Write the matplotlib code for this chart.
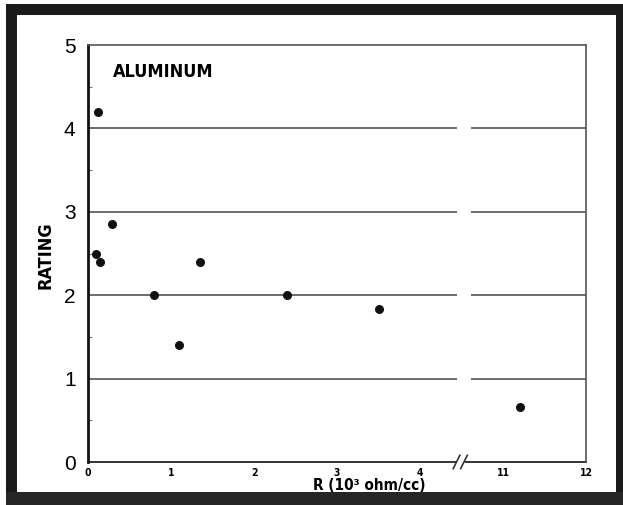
import matplotlib
matplotlib.use("Agg")
import matplotlib.pyplot as plt
import numpy as np
from matplotlib.patches import Rectangle
from matplotlib import font_manager

# --------------------------
# DATA
# --------------------------
resistance = [0.12, 0.10, 0.14, 0.29, 0.80, 1.10, 1.35, 2.40, 3.50, 11.2]   # 10^3 ohm/cc
rating = [4.20, 2.50, 2.40, 2.85, 2.00, 1.40, 2.40, 2.00, 1.83, 0.66]

x_tick_values = [0, 1, 2, 3, 4, 11, 12]
y_tick_values = [0, 1, 2, 3, 4, 5]
grid_levels = [1, 2, 3, 4]

# broken x axis: 4.5 .. 10.5 is cut out
BREAK_LO, BREAK_HI = 4.5, 10.5


def squeeze(v):
    return v if v <= BREAK_LO else v - (BREAK_HI - BREAK_LO)


# pick a condensed bold face if one is installed
names = {f.name for f in font_manager.fontManager.ttflist}
narrow_ok = "Liberation Sans Narrow" in names
NARROW = ["Liberation Sans Narrow", "DejaVu Sans"] if narrow_ok else ["DejaVu Sans"]
STRETCH = "normal" if narrow_ok else "condensed"

W, H = 623, 505

fig = plt.figure(figsize=(W / 100, H / 100), dpi=100)
ax = fig.add_axes([88 / W, 1 - 462 / H, (586 - 88) / W, (462 - 45) / H])

ax.scatter([squeeze(v) for v in resistance], rating, s=30, color="#111111", zorder=3)

x_max = squeeze(12)
ax.set_xlim(0, x_max)
ax.set_ylim(0, 5)

# horizontal rules with a gap at the axis break
gap_l, gap_r = 4.45, 4.62
ax.hlines(grid_levels, 0, gap_l, color="#444444", lw=1.1)
ax.hlines(grid_levels, gap_r, x_max, color="#444444", lw=1.1)

# spines
ax.spines["left"].set_linewidth(2.0)
ax.spines["left"].set_color("#111111")
for side in ["top", "right"]:
    ax.spines[side].set_linewidth(1.2)
    ax.spines[side].set_color("#555555")
ax.spines["bottom"].set_visible(False)

# bottom axis drawn by hand, with the // break mark
ax.plot([0, 4.43], [0, 0], color="#333333", lw=1.4, clip_on=False)
ax.plot([4.55, x_max], [0, 0], color="#333333", lw=1.4, clip_on=False)
ax.plot([4.40, 4.48], [-0.08, 0.08], color="#333333", lw=1.2, clip_on=False)
ax.plot([4.49, 4.57], [-0.08, 0.08], color="#333333", lw=1.2, clip_on=False)

# ticks
ax.set_xticks([squeeze(v) for v in x_tick_values])
ax.set_xticklabels([str(v) for v in x_tick_values])
ax.tick_params(axis="x", length=0, pad=4, labelsize=7.5)
for lab in ax.get_xticklabels():
    lab.set_fontweight("bold")
    lab.set_family(NARROW)
    lab.set_fontstretch(STRETCH)

ax.set_yticks(y_tick_values)
ax.set_yticks(np.arange(0.5, 5, 1), minor=True)
ax.tick_params(axis="y", which="major", length=0, pad=9, labelsize=15)
ax.tick_params(axis="y", which="minor", direction="in", length=3, width=0.8, color="#777777")
for lab in ax.get_yticklabels():
    lab.set_family(["Liberation Sans", "DejaVu Sans"])

# labels
fig.text(45 / W, 1 - 255 / H, "RATING", rotation=90, ha="center", va="center",
         fontsize=13, fontweight="bold", family=NARROW, fontstretch=STRETCH)
fig.text(113 / W, 1 - 72 / H, "ALUMINUM", ha="left", va="center",
         fontsize=13, fontweight="bold", family=NARROW, fontstretch=STRETCH)
fig.text(369 / W, 1 - 485 / H, "R (10³ ohm/cc)", ha="center", va="center",
         fontsize=11, fontweight="bold", family=NARROW, fontstretch=STRETCH)


# black scan border
def band(x0, y0, x1, y1, color="#1a1a1a"):
    fig.add_artist(Rectangle((x0 / W, 1 - y1 / H), (x1 - x0) / W, (y1 - y0) / H,
                             transform=fig.transFigure, color=color, lw=0))


band(6, 4, 623, 15)
band(6, 4, 17, 505)
band(616, 4, 623, 505)
band(6, 492, 623, 505, color="#262626")

fig.savefig("out.png", dpi=100)
